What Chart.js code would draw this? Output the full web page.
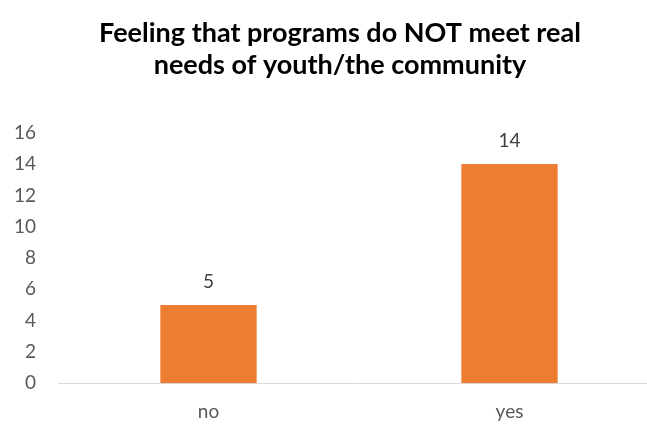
<!DOCTYPE html>
<html>
<head>
<meta charset="utf-8">
<script src="https://cdn.jsdelivr.net/npm/chart.js@4"></script>
<style>
  html, body { margin: 0; padding: 0; background: #fff; overflow: hidden; }
  #wrap { width: 680px; height: 426px; }
</style>
</head>
<body>
<div id="wrap"><canvas id="chart"></canvas></div>
<script>
// Dados
const categories = ['no', 'yes'];
const values = [5, 14];
const yTicks = [0, 2, 4, 6, 8, 10, 12, 14, 16];
const titleLines = ['Feeling that programs do NOT meet real', 'needs of youth/the community'];

const FONT = 'Lato, "Open Sans", sans-serif';

// Rótulos acima das barras
const valueLabels = {
  id: 'valueLabels',
  afterDatasetsDraw(chart) {
    const ctx = chart.ctx;
    const meta = chart.getDatasetMeta(0);
    ctx.save();
    ctx.font = '19px ' + FONT;
    ctx.fillStyle = '#404040';
    ctx.textAlign = 'center';
    ctx.textBaseline = 'middle';
    meta.data.forEach((bar, i) => {
      ctx.fillText(String(values[i]), bar.x, bar.y - 23);
    });
    ctx.restore();
  }
};

new Chart(document.getElementById('chart'), {
  type: 'bar',
  data: {
    labels: categories,
    datasets: [{
      data: values,
      backgroundColor: '#ED7D31',
      barPercentage: 0.32,
      categoryPercentage: 1
    }]
  },
  options: {
    responsive: true,
    maintainAspectRatio: false,
    animation: false,
    layout: { padding: { left: 0, right: 0, top: 0, bottom: -14 } },
    plugins: {
      legend: { display: false },
      tooltip: { enabled: false },
      title: {
        display: true,
        text: titleLines,
        color: '#000',
        font: { family: FONT, size: 27, weight: 'bold', lineHeight: 1.2 },
        padding: { top: 17, bottom: 51 }
      }
    },
    scales: {
      x: {
        grid: { display: false, drawTicks: false },
        border: { display: true, color: '#d9d9d9', width: 1 },
        ticks: { color: '#595959', font: { family: FONT, size: 19 }, padding: 17 }
      },
      y: {
        min: 0,
        max: 16,
        afterBuildTicks(axis) { axis.ticks = yTicks.map(v => ({ value: v })); },
        afterFit(axis) { axis.width = 58; },
        grid: { display: false, drawTicks: false },
        border: { display: false },
        ticks: { color: '#595959', font: { family: FONT, size: 19 }, padding: 22 }
      },
      // eixo vazio à direita, só para reservar espaço
      yRight: {
        position: 'right',
        afterFit(axis) { axis.width = 20; },
        grid: { display: false, drawTicks: false },
        border: { display: false },
        ticks: { display: false }
      }
    }
  },
  plugins: [valueLabels]
});
</script>
</body>
</html>
